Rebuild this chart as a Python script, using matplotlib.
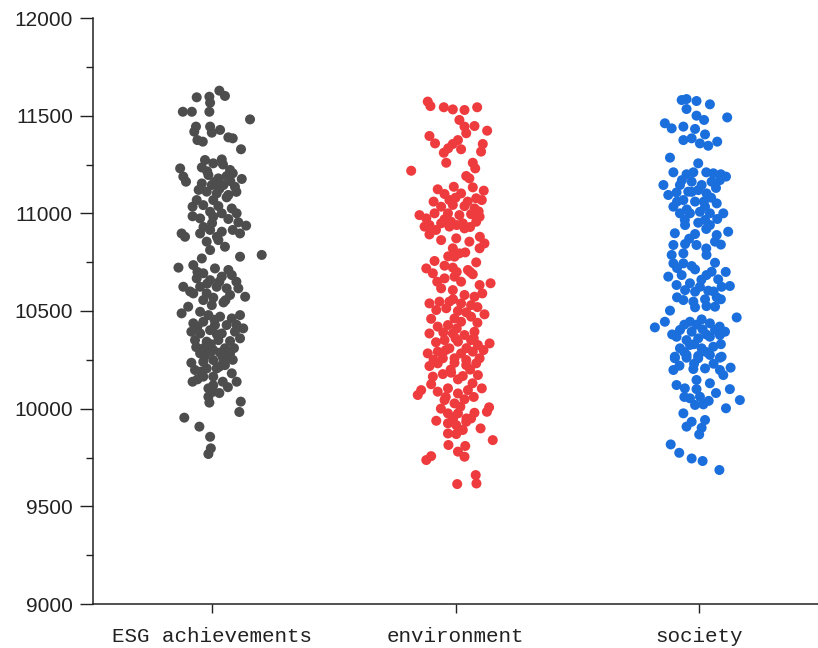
import numpy as np
import matplotlib.pyplot as plt

categories = ["ESG achievements", "environment", "society"]
colors = ["#4d4d4d", "#ee3b3e", "#1b6fdd"]

# values, jitter = horizontal offset in category units
esg_values = [
    11628, 11601, 11597, 11594, 11566, 11520, 11520, 11520, 11481, 11444,
    11418, 11444, 11413, 11427, 11375, 11367, 11389, 11384, 11328, 11273,
    11276, 11256, 11230, 11235, 11222, 11188, 11196, 11179, 11191, 11176,
    11162, 11153, 11145, 11145, 11136, 11111, 11102, 11094, 11068, 11068,
    11082, 11034, 11042, 11037, 11025, 11008, 11000, 11000,
    10974, 10983, 10971, 10954, 10937, 10897, 10880, 10897, 10915, 10906,
    10897, 10855, 10863, 10829, 10812, 10778, 10787, 10769, 10735, 10722,
    10718, 10710, 10693, 10667, 10658, 10676, 10684, 10624, 10624, 10624,
    10616, 10616, 10590, 10590, 10582, 10573, 10568, 10556, 10544, 10530,
    10522, 10488, 10496, 10479, 10471, 10462, 10479, 10437, 10445, 10428,
    10428, 10411, 10394, 10385, 10402, 10385, 10394, 10351, 10343, 10351,
    10346, 10360, 10309, 10300, 10309, 10283,
    10283, 10292, 10287, 10275, 10240, 10249, 10240, 10198, 10206, 10206,
    10223, 10181, 10138, 10138, 10164, 10164, 10138, 10104, 10087, 10061,
    10031, 10036, 9983, 9954, 9908, 9856, 9797, 9768,
    11250, 11205, 11215, 11160, 11110, 11120, 11125, 11165,
    10950, 10930, 10915, 10880, 10985,
    10650, 10640, 10650, 10600, 10555, 10700,
    10455, 10430, 10420, 10380, 10330, 10310, 10315, 10260, 10270, 10250,
    10235, 10215, 10190, 10120, 10150, 10110, 10080,
]
esg_jitter = [
    0.030, 0.053, -0.011, -0.063, -0.008, -0.011, -0.120, -0.083, 0.156, -0.066,
    -0.073, -0.008, -0.001, 0.033, -0.060, -0.038, 0.067, 0.085, 0.119, -0.029,
    0.040, 0.005, -0.131, -0.042, 0.074, -0.118, -0.015, 0.026, 0.060, 0.122,
    -0.107, -0.042, -0.001, 0.047, 0.094, -0.022, 0.019, 0.067, 0.005, -0.063,
    0.060, -0.080, -0.036, 0.026, 0.081, -0.008, 0.040, 0.101,
    -0.049, 0.005, 0.067, 0.108, 0.140, -0.125, -0.111, -0.049, -0.008, 0.040,
    0.115, -0.022, 0.026, 0.053, -0.008, 0.115, 0.204, -0.042, -0.077, -0.138,
    0.012, 0.067, -0.036, -0.063, -0.008, 0.040, 0.081, -0.118, -0.049, 0.019,
    0.060, 0.108, -0.077, -0.022, 0.074, 0.136, 0.005, -0.036, 0.047, -0.001,
    -0.098, -0.125, -0.049, -0.015, 0.033, 0.081, 0.115, -0.077, -0.036, 0.012,
    0.060, 0.128, -0.085, -0.049, -0.008, 0.040, 0.094, -0.070, -0.022, 0.026,
    0.074, 0.115, -0.036, 0.005, 0.053, 0.074,
    -0.049, -0.008, 0.033, 0.067, -0.036, 0.005, 0.047, -0.070, -0.022, 0.019,
    0.053, 0.081, 0.101, -0.080, -0.036, 0.005, 0.044, -0.015, 0.005, -0.015,
    -0.011, 0.118, 0.112, -0.114, -0.052, -0.008, -0.005, -0.015,
    0.045, 0.085, -0.020, 0.010, 0.100, -0.055, 0.030, 0.075,
    0.000, -0.035, 0.085, 0.020, -0.080,
    0.030, -0.020, 0.100, -0.090, 0.055, -0.060,
    0.010, 0.100, -0.060, 0.020, -0.005, 0.090, -0.065, 0.045, -0.030, 0.085,
    -0.085, 0.030, -0.045, 0.005, -0.060, 0.065, 0.030,
]

env_values = [
    11572, 11549, 11543, 11532, 11529, 11543, 11478, 11444, 11447, 11423,
    11396, 11358, 11410, 11375, 11355, 11328, 11355, 11316, 11310, 11333,
    11218, 11259, 11259, 11230, 11191, 11179, 11123, 11136, 11133, 11116,
    11099, 11102, 11077, 11068, 11068, 10991, 10974, 11034, 11043, 11037,
    11025, 11000, 11000, 10991, 10996, 10983, 10957, 10949, 10957, 10949,
    10940,
    10932, 10932, 10923, 10892, 10863, 10872, 10855, 10846, 10821, 10821,
    10795, 10778, 10756, 10732, 10749, 10718, 10693, 10722, 10710, 10688,
    10667, 10676, 10650, 10616, 10633, 10642, 10607, 10582, 10573, 10539,
    10548, 10548, 10539, 10530, 10505, 10514, 10500, 10493, 10462, 10471,
    10483, 10445, 10428, 10420, 10385, 10394, 10385, 10377, 10351, 10343,
    10351, 10334, 10326, 10309, 10283, 10292, 10283, 10292, 10258, 10258,
    10249, 10258,
    10218, 10232, 10235, 10223, 10232, 10164, 10177, 10184, 10167, 10172,
    10095, 10070, 10087, 10104, 10078, 10095, 10104, 10044, 10027, 10048,
    10007, 9984, 9976, 9976, 9979, 9938, 9925, 9916, 9933, 9950,
    9899, 9873, 9870, 9891, 9839, 9814, 9809, 9780, 9754, 9757,
    9737, 9660, 9617, 9614,
    11060, 11080, 11060, 11010, 10970, 10940, 10930, 10915, 10880,
    10800, 10780, 10700, 10700, 10650, 10590,
    10560, 10520, 10460, 10440, 10390, 10410, 10340, 10310, 10360, 10300,
    10300, 10360, 10250,
    10200, 10200, 10150, 10130, 10125, 10060, 10060, 10010, 10000, 9950,
    9950, 9890,
]
env_jitter = [
    -0.114, -0.103, -0.048, -0.011, 0.037, 0.089, 0.016, 0.037, 0.078, 0.130,
    -0.107, -0.084, 0.044, 0.010, -0.011, 0.023, 0.112, 0.105, -0.048, -0.030,
    -0.182, -0.038, 0.071, 0.081, 0.044, 0.057, -0.073, -0.007, 0.071, 0.116,
    -0.045, 0.023, 0.085, 0.108, -0.025, -0.148, -0.120, -0.059, -0.011, 0.037,
    0.078, -0.086, -0.031, 0.016, 0.064, 0.099, -0.018, 0.030, 0.085, -0.059,
    -0.107,
    -0.127, -0.025, 0.037, -0.107, -0.059, 0.003, 0.057, 0.119, 0.099, -0.011,
    0.016, -0.004, -0.086, -0.045, 0.085, -0.120, -0.093, -0.011, 0.051, 0.071,
    -0.045, -0.004, 0.023, -0.059, 0.099, 0.144, -0.011, 0.037, 0.078, -0.107,
    -0.066, -0.025, 0.023, 0.064, -0.079, -0.038, 0.010, 0.044, -0.004, 0.064,
    0.119, 0.023, -0.031, -0.073, -0.107, 0.078, -0.011, 0.037, -0.045, 0.010,
    0.064, 0.140, 0.092, -0.025, -0.114, -0.073, 0.023, 0.071, -0.052, -0.004,
    0.044, 0.099,
    -0.107, -0.073, -0.004, 0.044, 0.085, -0.093, -0.052, -0.018, 0.030, 0.092,
    -0.141, -0.155, -0.073, -0.031, 0.010, 0.051, 0.108, -0.045, -0.004, 0.037,
    0.138, 0.129, -0.031, 0.010, 0.078, -0.079, -0.031, 0.003, 0.044, 0.064,
    0.103, -0.031, 0.003, 0.030, 0.153, -0.029, 0.040, 0.010, 0.037, -0.100,
    -0.120, 0.083, 0.086, 0.007,
    -0.090, 0.000, 0.050, 0.095, -0.045, 0.005, 0.060, -0.080, 0.100,
    0.040, -0.030, 0.060, 0.005, -0.075, 0.110,
    -0.010, 0.090, -0.100, 0.090, -0.050, 0.005, -0.080, 0.045, 0.000, -0.040,
    0.115, 0.075, -0.090,
    0.060, -0.020, 0.010, 0.070, -0.100, -0.040, 0.075, 0.020, -0.060, 0.045,
    -0.010, 0.015,
]

soc_values = [
    11580, 11585, 11575, 11558, 11534, 11491, 11500, 11478, 11461, 11435,
    11444, 11432, 11404, 11375, 11384, 11358, 11346, 11367, 11285, 11256,
    11210, 11200, 11210, 11205, 11188, 11145, 11145, 11162, 11145, 11162,
    11170, 11094, 11107, 11111, 11119, 11102, 11068, 11060, 11051, 11034,
    11034, 11000, 11000, 11008, 11000, 10966, 10966, 10971,
    10940, 10952, 10940, 10898, 10894, 10889, 10906, 10838, 10843, 10838,
    10855, 10787, 10795, 10787, 10744, 10744, 10713, 10747, 10701, 10676,
    10684, 10684, 10662, 10633, 10642, 10624, 10624, 10628, 10607, 10599,
    10604, 10570, 10556, 10548, 10560, 10519, 10525, 10522, 10502, 10445,
    10416, 10445, 10457, 10437, 10467, 10403, 10394, 10406, 10403, 10394,
    10368, 10351, 10360, 10368, 10377, 10309, 10326, 10309, 10317, 10266,
    10275, 10270, 10275, 10266,
    10258, 10261, 10258, 10261, 10198, 10203, 10206, 10198, 10172, 10121,
    10104, 10147, 10130, 10100, 10044, 10053, 10061, 10019, 10022, 10002,
    9976, 9933, 9908, 9942, 9902, 9868, 9817, 9774, 9745, 9732,
    9686,
    11200, 11210, 11170, 11130, 11110, 11080, 11060, 11060, 11000, 11020,
    10920, 10870, 10840, 10820, 10730, 10700, 10720, 10660, 10600, 10570,
    10560,
    10430, 10420, 10430, 10380, 10380, 10330, 10330, 10290, 10290, 10230,
    10230, 10220, 10210,
    10060, 10080, 10040, 10100,
]
soc_jitter = [
    -0.071, -0.051, -0.010, 0.045, -0.051, 0.116, -0.010, 0.021, -0.140, -0.112,
    -0.064, -0.016, 0.025, -0.064, -0.030, 0.004, 0.038, 0.075, -0.119, -0.003,
    -0.105, -0.051, -0.023, 0.059, 0.111, -0.146, -0.078, -0.030, 0.011, 0.052,
    0.086, -0.126, -0.092, -0.044, -0.003, 0.031, -0.064, -0.016, 0.073, -0.105,
    0.025, -0.078, -0.037, 0.004, 0.045, -0.058, 0.025, 0.075,
    -0.057, -0.003, 0.045, -0.099, -0.016, 0.073, 0.120, -0.105, -0.057, -0.010,
    0.066, -0.112, -0.064, 0.031, -0.105, -0.064, -0.016, 0.066, 0.052, -0.126,
    -0.071, 0.031, 0.079, -0.092, -0.037, 0.004, 0.093, 0.127, -0.057, -0.016,
    0.038, 0.073, -0.064, -0.023, 0.025, -0.016, 0.031, 0.066, -0.119, -0.140,
    -0.181, -0.037, 0.011, 0.045, 0.155, -0.078, -0.030, 0.015, 0.066, 0.107,
    -0.092, -0.051, -0.003, 0.045, 0.086, -0.078, -0.037, 0.011, 0.059, -0.099,
    -0.051, -0.003, 0.045, 0.093,
    -0.099, -0.051, -0.003, 0.086, -0.105, -0.023, 0.025, 0.086, 0.100, -0.092,
    -0.058, -0.010, 0.045, 0.127, 0.168, -0.037, 0.004, -0.016, 0.018, 0.111,
    -0.064, -0.030, -0.051, 0.025, 0.011, 0.001, -0.116, -0.081, -0.030, 0.015,
    0.084,
    0.090, 0.030, -0.070, 0.070, -0.030, 0.050, -0.090, 0.020, 0.100, -0.050,
    0.030, -0.040, 0.090, 0.030, -0.030, 0.110, -0.090, 0.010, 0.060, -0.090,
    0.090,
    -0.060, 0.085, -0.010, 0.030, -0.110, -0.020, 0.090, -0.060, 0.030, -0.020,
    0.060, -0.080, 0.130,
    -0.060, 0.070, 0.040, -0.010,
]

groups = [(esg_values, esg_jitter), (env_values, env_jitter), (soc_values, soc_jitter)]

fig = plt.figure(figsize=(8.18, 6.48), dpi=100)
ax = fig.add_axes([93 / 818, 44 / 648, 725 / 818, 586 / 648])

for i, (vals, jit) in enumerate(groups):
    x = i + np.array(jit)
    ax.scatter(x, vals, s=52, color=colors[i], edgecolors="none", zorder=3)

ax.set_xlim(-0.489, 2.489)
ax.set_ylim(9000, 12000)
ax.set_xticks(range(len(categories)))
ax.set_xticklabels(categories, family="Liberation Mono", fontsize=15)
ax.set_yticks(np.arange(9000, 12001, 500))
ax.set_yticks(np.arange(9000, 12001, 250), minor=True)
for lab in ax.get_yticklabels():
    lab.set_family("Liberation Sans")
    lab.set_fontsize(15)

for side in ["top", "right"]:
    ax.spines[side].set_visible(False)
for side in ["left", "bottom"]:
    ax.spines[side].set_linewidth(1.1)
    ax.spines[side].set_color("#222222")

ax.tick_params(axis="y", which="major", length=9.5, width=1.0, pad=5, color="#222222", labelcolor="#222222")
ax.tick_params(axis="y", which="minor", length=5, width=1.0, color="#222222")
ax.tick_params(axis="x", which="major", length=6.5, width=1.0, pad=10, color="#222222", labelcolor="#222222")

fig.savefig("out.png", dpi=100)
